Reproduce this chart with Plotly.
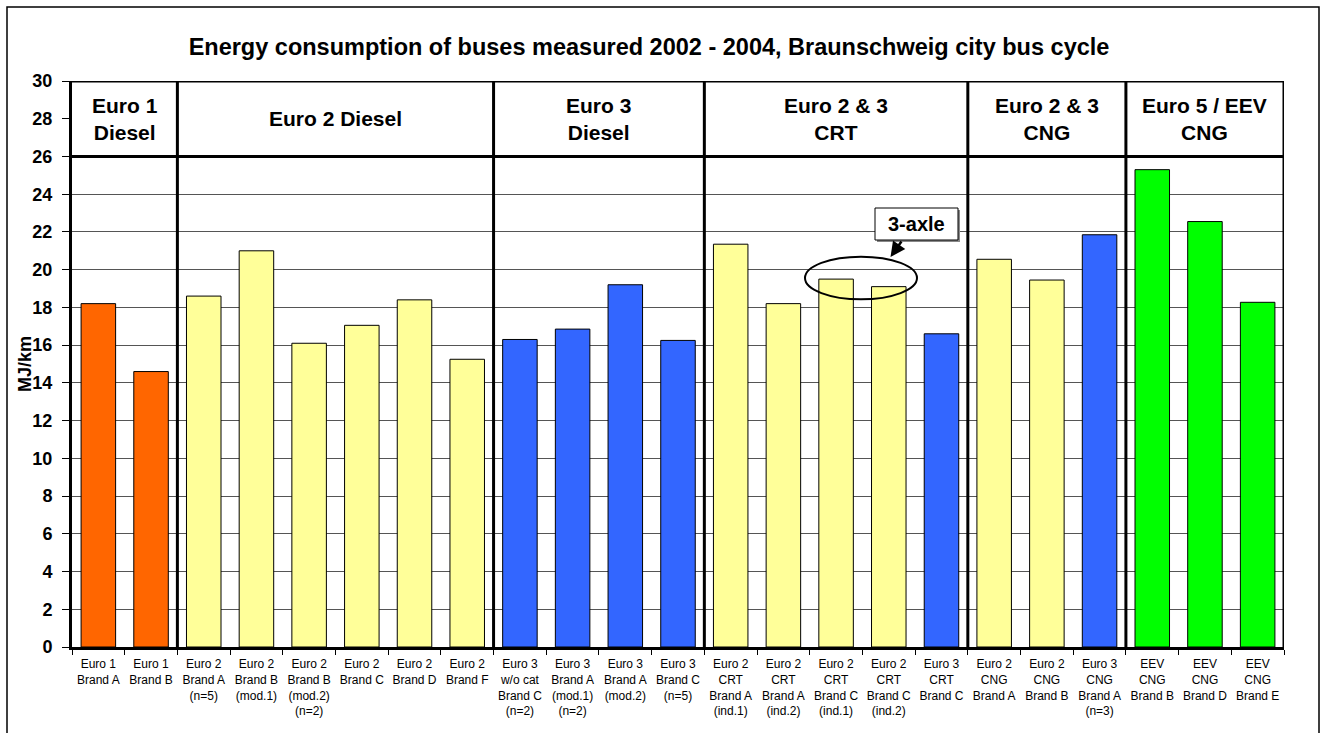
import plotly.graph_objects as go

# ---------------- data ----------------
categories = [
    "Euro 1<br>Brand A", "Euro 1<br>Brand B",
    "Euro 2<br>Brand A<br>(n=5)", "Euro 2<br>Brand B<br>(mod.1)",
    "Euro 2<br>Brand B<br>(mod.2)<br>(n=2)", "Euro 2<br>Brand C",
    "Euro 2<br>Brand D", "Euro 2<br>Brand F",
    "Euro 3<br>w/o cat<br>Brand C<br>(n=2)", "Euro 3<br>Brand A<br>(mod.1)<br>(n=2)",
    "Euro 3<br>Brand A<br>(mod.2)", "Euro 3<br>Brand C<br>(n=5)",
    "Euro 2<br>CRT<br>Brand A<br>(ind.1)", "Euro 2<br>CRT<br>Brand A<br>(ind.2)",
    "Euro 2<br>CRT<br>Brand C<br>(ind.1)", "Euro 2<br>CRT<br>Brand C<br>(ind.2)",
    "Euro 3<br>CRT<br>Brand C",
    "Euro 2<br>CNG<br>Brand A", "Euro 2<br>CNG<br>Brand B", "Euro 3<br>CNG<br>Brand A<br>(n=3)",
    "EEV<br>CNG<br>Brand B", "EEV<br>CNG<br>Brand D", "EEV<br>CNG<br>Brand E",
]
values = [18.2, 14.6,
          18.6, 21.0, 16.1, 17.05, 18.4, 15.25,
          16.3, 16.85, 19.2, 16.25,
          21.35, 18.2, 19.5, 19.1, 16.6,
          20.55, 19.45, 21.85,
          25.3, 22.55, 18.27]
emission_class = ["E1", "E1",
                  "E2", "E2", "E2", "E2", "E2", "E2",
                  "E3", "E3", "E3", "E3",
                  "E2", "E2", "E2", "E2", "E3",
                  "E2", "E2", "E3",
                  "EEV", "EEV", "EEV"]
class_colors = {"E1": "#FF6600", "E2": "#FFFF99", "E3": "#3366FF", "EEV": "#00FF00"}

group_labels = ["Euro 1<br>Diesel", "Euro 2 Diesel", "Euro 3<br>Diesel",
                "Euro 2 & 3<br>CRT", "Euro 2 & 3<br>CNG", "Euro 5 / EEV<br>CNG"]
group_sizes = [2, 6, 4, 5, 3, 3]

title_text = "Energy consumption of buses measured 2002 - 2004, Braunschweig city bus cycle"
y_title = "MJ/km"
y_max = 30
header_bottom = 26

# ---------------- layout geometry ----------------
W, H = 1325, 733
L, R, T, B = 72, 41, 81, 86
PW, PH = W - L - R, H - T - B
n = len(categories)

def xd(px):
    return (px - L) / (PW / n) - 0.5

def yd(py):
    return (H - B - py) / (PH / y_max)

def xp(px):
    return (px - L) / PW

def yp(py):
    return (H - B - py) / PH

FONT = "Arial, Liberation Sans, sans-serif"

fig = go.Figure()
fig.add_trace(go.Bar(
    x=categories, y=values,
    marker=dict(color=[class_colors[c] for c in emission_class],
                line=dict(color="black", width=1)),
    showlegend=False, hoverinfo="x+y",
))

shapes = []
# white band behind header (hides gridline 28)
shapes.append(dict(type="rect", xref="x", yref="y", x0=-0.5, x1=n - 0.5,
                   y0=header_bottom, y1=y_max, fillcolor="white",
                   line=dict(width=0), layer="above"))
# header separator and top border
shapes.append(dict(type="line", xref="x", yref="y", x0=-0.5, x1=n - 0.5,
                   y0=header_bottom, y1=header_bottom, line=dict(color="black", width=3), layer="above"))
shapes.append(dict(type="line", xref="x", yref="y", x0=-0.5, x1=n - 0.5,
                   y0=y_max, y1=y_max, line=dict(color="black", width=3), layer="above"))
# right border
shapes.append(dict(type="line", xref="x", yref="y", x0=n - 0.5, x1=n - 0.5,
                   y0=0, y1=y_max, line=dict(color="black", width=3), layer="above"))

annotations = []
start = 0
for label, size in zip(group_labels, group_sizes):
    end = start + size
    if end < n:
        shapes.append(dict(type="line", xref="x", yref="y", x0=end - 0.5, x1=end - 0.5,
                           y0=0, y1=y_max, line=dict(color="black", width=3), layer="above"))
    annotations.append(dict(x=(start + end - 1) / 2, y=(header_bottom + y_max) / 2,
                            xref="x", yref="y", text=label, showarrow=False,
                            font=dict(family=FONT, size=21, color="black", weight="bold"),
                            align="center"))
    start = end

# "3-axle" callout
shapes.append(dict(type="circle", xref="x", yref="y", x0=xd(805), x1=xd(917),
                   y0=yd(299.3), y1=yd(256.7), line=dict(color="black", width=2), layer="above"))
shapes.append(dict(type="rect", xref="x", yref="y", x0=xd(877), x1=xd(960),
                   y0=yd(242), y1=yd(210), fillcolor="#888888", line=dict(width=0), layer="above"))
shapes.append(dict(type="rect", xref="x", yref="y", x0=xd(875), x1=xd(958),
                   y0=yd(240), y1=yd(208), fillcolor="white",
                   line=dict(color="black", width=1), layer="above"))
annotations.append(dict(x=xd(916.5), y=yd(224), xref="x", yref="y", text="3-axle",
                        showarrow=False, font=dict(family=FONT, size=20, color="black", weight="bold")))
annotations.append(dict(x=xd(890.5), y=yd(257), xref="x", yref="y", text="",
                        showarrow=True, ax=12, ay=-17, arrowhead=2, arrowsize=1.2,
                        arrowwidth=2.5, arrowcolor="black"))

# outer frame
shapes.append(dict(type="rect", xref="paper", yref="paper", x0=xp(7), x1=xp(1319),
                   y0=yp(760), y1=yp(7), line=dict(color="black", width=1.5),
                   fillcolor="rgba(0,0,0,0)", layer="below"))

# y axis title
annotations.append(dict(x=xp(25), y=yp(364), xref="paper", yref="paper", text=y_title,
                        textangle=-90, showarrow=False, xanchor="center", yanchor="middle",
                        font=dict(family=FONT, size=18, color="black", weight="bold")))

fig.update_layout(
    width=W, height=H,
    margin=dict(l=L, r=R, t=T, b=B, pad=0),
    paper_bgcolor="white", plot_bgcolor="white",
    bargap=0.345,
    title=dict(text=title_text, x=xp(649), xref="paper", xanchor="center",
               y=1 - 47 / H, yanchor="middle",
               font=dict(family=FONT, size=23.5, color="black", weight="bold")),
    shapes=shapes, annotations=annotations,
    xaxis=dict(type="category", tickson="boundaries", ticks="outside", ticklen=5,
               tickcolor="black", tickwidth=1, showline=True, linecolor="black",
               linewidth=3, showgrid=False, range=[-0.5, n - 0.5],
               ticklabelstandoff=4,
               tickfont=dict(family=FONT, size=12, color="black"), tickangle=0),
    yaxis=dict(range=[0, y_max], dtick=2, ticks="outside", ticklen=7, tickcolor="black",
               tickwidth=1, showline=True, linecolor="black", linewidth=3,
               showgrid=True, gridcolor="#555555", gridwidth=1, zeroline=False,
               ticklabelstandoff=6,
               tickfont=dict(family=FONT, size=18, color="black", weight="bold")),
)

fig.write_html("out.html", config={"displayModeBar": False},
               post_script="document.body.style.margin='0';")
